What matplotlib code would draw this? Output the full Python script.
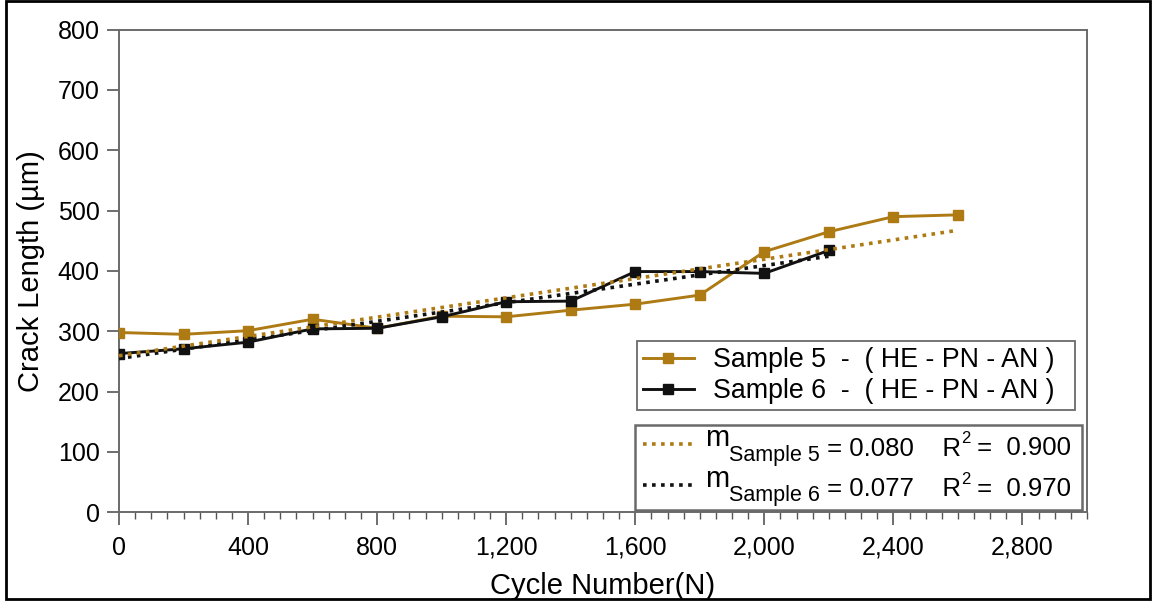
import matplotlib
matplotlib.use("Agg")
import matplotlib.pyplot as plt
from matplotlib.patches import Rectangle
from matplotlib.ticker import MultipleLocator, FuncFormatter
import numpy as np

plt.rcParams["font.family"] = ["Liberation Sans", "DejaVu Sans"]

# Crack growth measurements
cycles_s5 = [0, 200, 400, 600, 800, 1000, 1200, 1400, 1600, 1800, 2000, 2200, 2400, 2600]
crack_s5 = [298, 295, 301, 320, 305, 325, 324, 335, 345, 360, 432, 465, 490, 493]
cycles_s6 = [0, 200, 400, 600, 800, 1000, 1200, 1400, 1600, 1800, 2000, 2200]
crack_s6 = [263, 271, 282, 304, 305, 324, 349, 350, 399, 399, 396, 434]

# Linear growth rates and fit quality
slope_s5, r2_s5 = 0.080, 0.900
slope_s6, r2_s6 = 0.077, 0.970

series_labels = ["Sample 5  -  ( HE - PN - AN ) ", "Sample 6  -  ( HE - PN - AN ) "]
fit_names = ["Sample 5", "Sample 6"]

GOLD = "#AD7A14"
BLACK = "#111111"
FS_TICK = 18
FS_AXLAB = 21
FS_LEG1 = 19.3
FS_LEG2 = 18.5

fig = plt.figure(figsize=(11.52, 6.01), dpi=100)
ax = fig.add_axes([0.1033, 0.1476, 0.8403, 0.8031])

l5, = ax.plot(cycles_s5, crack_s5, color=GOLD, lw=2.1, marker="s", ms=7.2,
              zorder=3)
l6, = ax.plot(cycles_s6, crack_s6, color=BLACK, lw=2.1, marker="s", ms=7.2,
              zorder=3)


def trend(x, y, m):
    """Straight line with slope m through the centroid of (x, y)."""
    x = np.asarray(x, float)
    y = np.asarray(y, float)
    b = y.mean() - m * x.mean()
    xs = np.array([x[0], x[-1]])
    return xs, m * xs + b


tx5, ty5 = trend(cycles_s5, crack_s5, slope_s5)
tx6, ty6 = trend(cycles_s6, crack_s6, slope_s6)
t6, = ax.plot(tx6, ty6, color=BLACK, lw=2.6, ls=(0, (1, 1.5)), zorder=4)
t5, = ax.plot(tx5, ty5, color=GOLD, lw=2.6, ls=(0, (1, 1.5)), zorder=4)

ax.set_xlim(0, 3000)
ax.set_ylim(0, 800)
ax.xaxis.set_major_locator(MultipleLocator(400))
ax.xaxis.set_minor_locator(MultipleLocator(50))
ax.yaxis.set_major_locator(MultipleLocator(100))
ax.xaxis.set_major_formatter(FuncFormatter(lambda v, p: f"{v:,.0f}"))

for s in ax.spines.values():
    s.set_color("#6a6a6a")
    s.set_linewidth(1.4)
ax.tick_params(axis="both", which="major", length=9, width=1.2,
               color="#555555", labelsize=FS_TICK, direction="out")
ax.tick_params(axis="x", which="major", pad=8)
ax.tick_params(axis="y", which="major", pad=5)
ax.tick_params(axis="x", which="minor", length=5, width=1.0, color="#555555")

ax.set_xlabel("Cycle Number(N)", fontsize=FS_AXLAB, labelpad=9)
ax.set_ylabel("Crack Length (µm)", fontsize=FS_AXLAB, labelpad=9)

# Series legend
leg1 = ax.legend([l5, l6], series_labels, loc="upper left",
                 bbox_to_anchor=(0.5351, 0.0, 0.4525, 0.3549), mode="expand",
                 fontsize=FS_LEG1, frameon=True, fancybox=False, framealpha=1,
                 edgecolor="#6a6a6a", handlelength=1.9, handletextpad=0.7,
                 labelspacing=0.2, borderpad=0.22, borderaxespad=0)
leg1.get_frame().set_linewidth(1.3)
ax.add_artist(leg1)

# Trend-line legend: the label carries the main-baseline part of each
# equation; slope symbol, subscript and R² pieces are placed around it.
main_parts = [f" = {slope_s5:.3f}    R", f" = {slope_s6:.3f}    R"]
r2_values = [r2_s5, r2_s6]
leg2 = ax.legend([t5, t6], main_parts, loc="lower left",
                 bbox_to_anchor=(0.5331, 0.0048, 0.4618, 0.2), mode="expand",
                 fontsize=FS_LEG2, frameon=True, fancybox=False, framealpha=1,
                 edgecolor="#6a6a6a", handlelength=1.95, handletextpad=4.95,
                 handleheight=1.36, labelspacing=0.46, borderpad=0.3,
                 borderaxespad=0)
leg2.get_frame().set_linewidth(1.8)

BASE = 3.9  # baseline height above the label's bbox bottom, in points
for lab, name, r2 in zip(leg2.get_texts(), fit_names, r2_values):
    sub = ax.annotate(name, xy=(0, 0), xycoords=lab, xytext=(0, BASE - 4.0),
                      textcoords="offset points", ha="right", va="baseline",
                      fontsize=15.5, zorder=10)
    ax.annotate("m", xy=(0, 0), xycoords=(sub, lab), xytext=(0, BASE + 6.5),
                textcoords="offset points", ha="right", va="baseline",
                fontsize=21, zorder=10)
    sup = ax.annotate("2", xy=(1, 0), xycoords=lab, xytext=(0, BASE + 8.5),
                      textcoords="offset points", ha="left", va="baseline",
                      fontsize=12, zorder=10)
    ax.annotate(f" =  {r2:.3f}", xy=(1, 0), xycoords=(sup, lab),
                xytext=(0, BASE), textcoords="offset points", ha="left",
                va="baseline", fontsize=FS_LEG2, zorder=10)

# Outer border around the figure
fig.patches.append(Rectangle((0.005, 0.004), 0.993, 0.994,
                             transform=fig.transFigure, fill=False,
                             edgecolor="black", lw=2))

fig.savefig("out.png", dpi=100)
